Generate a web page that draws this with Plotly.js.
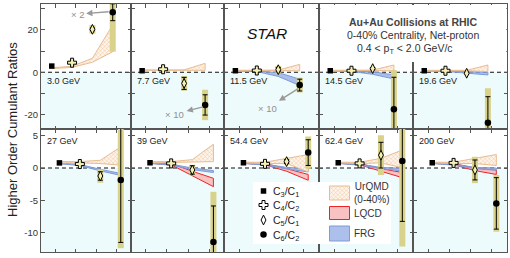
<!DOCTYPE html>
<html><head><meta charset="utf-8">
<script src="https://cdn.plot.ly/plotly-3.0.1.min.js"></script>
<style>html,body{margin:0;padding:0;background:#fff}</style>
</head><body><div id="chart" style="width:510px;height:258px"></div>
<script>
// ---- data ----
const energies = ['3.0 GeV','7.7 GeV','11.5 GeV','14.5 GeV','19.6 GeV','27 GeV','39 GeV','54.4 GeV','62.4 GeV','200 GeV'];
const slots = [1,2,3,4]; // C3/C1, C4/C2, C5/C1, C6/C2
const c3c1 = [2.9,0.7,0.7,0.7,0.7,0.8,0.82,0.82,0.82,0.82];
const c4c2 = [4.5,1.4,0.8,0.7,0.7,0.62,0.72,0.65,0.72,0.8];
const c5c1 = [20.3,-5.3,1.2,1.7,-0.5,-1.24,-0.3,1.0,2.0,-0.3];
const c5c1Stat = [0.6,2.85,1.0,0.5,0.3,0.65,0.65,0.3,2.0,1.55];
const c5c1Sys = [2.0,3.5,1.8,0.8,0.6,1.05,0.8,0.5,3.1,2.05];
const c6c2 = [28.4,-15.5,-6.1,-17.6,-23.9,-1.87,-11.5,2.4,1.1,-5.5];
const c6c2Stat = [4.0,4.8,2.8,15.2,12.3,9.7,5.6,2.0,9.4,4.0];
const c6c2Sys = [18.7,7.2,3.5,18.6,16.3,10.6,7.8,2.5,13.3,4.4];
const urqmdHi = [[2.1,2.8,6.6,22.4],[1.1,1.1,1.1,4.2],[0.9,0.9,1.0,3.7],[0.9,0.9,1.0,3.4],[0.9,0.9,0.9,3.4],
                 [1.0,1.0,1.2,3.3],[1.0,1.0,1.3,3.7],[0.9,0.9,1.5,2.1],[0.9,0.9,1.5,2.8],[0.9,0.9,1.5,2.1]];
const urqmdLo = [[1.7,2.3,4.7,9.7],[0.9,0.9,0.9,0.9],[0.7,0.7,0.8,0.6],[0.7,0.7,0.8,0.6],[0.7,0.7,0.7,0.3],
                 [0.8,0.8,0.7,0.45],[0.8,0.8,0.9,1.0],[0.8,0.7,0.7,-0.6],[0.8,0.7,0.8,0.05],[0.8,0.7,0.7,0.4]];
const lqcdHi = [null,null,null,null,null,null,[0.85,0.7,-0.5,-1.6],[0.85,0.7,-0.1,-1.0],[0.85,0.7,-0.1,-0.7],[0.85,0.7,0.0,-0.3]];
const lqcdLo = [null,null,null,null,null,null,[0.75,0.5,-1.2,-2.9],[0.75,0.5,-0.5,-1.9],[0.75,0.5,-0.5,-1.5],[0.75,0.5,-0.4,-1.0]];
const frgHi = [null,null,[0.8,0.6,-0.2,-3.3],[0.8,0.6,0.2,-1.3],[0.8,0.6,0.2,0.0],
               [0.8,0.55,-0.2,-0.85],[0.8,0.6,0.0,-0.4],[0.8,0.6,0.1,-0.1],[0.8,0.6,0.1,-0.05],[0.8,0.6,0.1,0.0]];
const frgLo = [null,null,[0.6,0.3,-2.0,-6.3],[0.6,0.4,-1.0,-3.2],[0.6,0.4,-0.5,-1.3],
               [0.65,0.4,-0.45,-1.15],[0.7,0.45,-0.25,-0.7],[0.7,0.45,-0.15,-0.6],[0.7,0.45,-0.1,-0.45],[0.7,0.45,-0.1,-0.35]];
const topTicks = [-20,0,20];
const topTickText = ['-20','0','20'];
const botTicks = [-10,-5,0,5];
const botTickText = ['-10','-5','0','5'];

// ---- styling / layout ----
const FONT = 'Liberation Sans, Arial, Helvetica, sans-serif';
const W = 510, H = 258;
const colPx = [41,131,224,319,413,507];
const tickFrac = [0.16,0.385,0.615,0.84];
const topRange = [-26.9, 32.3], botRange = [-13.06, 6.07];
const SYS = '#d8d28a', CYAN = '#eefbfc', AX = '#555';
const urqmdPattern = {shape:'x', fgcolor:'#edbb92', bgcolor:'#fdf4ea', size:3, solidity:0.25};

const layout = {width:W, height:H, margin:{l:0,r:0,t:0,b:0}, paper_bgcolor:'#fff', plot_bgcolor:'#fff',
  showlegend:false, font:{family:FONT, size:9, color:'#333'}, shapes:[], annotations:[]};
const traces = [];

function band(hi, lo, xid, yid, style){
  return Object.assign({type:'scatter', mode:'lines', x: slots.concat(slots.slice().reverse()),
    y: hi.concat(lo.slice().reverse()), fill:'toself', xaxis:xid, yaxis:yid, hoverinfo:'skip'}, style);
}
const lqcdStyle = {fillcolor:'#f8c2c2', line:{color:'#ee2424', width:1}};
const frgStyle = {fillcolor:'rgba(145,170,228,0.75)', line:{color:'#7f9bd9', width:1}};
const urqmdStyle = {fillcolor:'#fdf4ea', fillpattern:urqmdPattern, line:{color:'#e8bc90', width:1}};

for (let p = 0; p < 10; p++) {
  const n = p + 1, row = p < 5 ? 0 : 1, col = p % 5;
  const xid = n === 1 ? 'x' : 'x' + n, yid = n === 1 ? 'y' : 'y' + n;
  const xr = row === 0 ? [0.47, 4.9] : [0.1, 4.5];
  const yr = row === 0 ? topRange : botRange;
  layout['xaxis' + (n === 1 ? '' : n)] = {domain:[colPx[col]/W, colPx[col+1]/W], range:xr, anchor:yid,
    tickvals: tickFrac.map(f => xr[0] + f*(xr[1]-xr[0])), ticks:'inside', ticklen:3.5, tickwidth:1, tickcolor:AX,
    showticklabels:false, showline:true, linecolor:AX, linewidth:1, mirror:'ticks', showgrid:false, zeroline:false, fixedrange:true};
  const ya = {domain: row === 0 ? [0.5, 1-4/H] : [6/H, 0.5], range:yr, anchor:xid,
    tickvals: row === 0 ? topTicks : botTicks, ticktext: row === 0 ? topTickText : botTickText,
    ticks:'inside', ticklen:3.5, tickwidth:1, tickcolor:AX, showticklabels: col === 0,
    tickfont:{family:FONT, size:9.5, color:'#333'},
    showline:true, linecolor:AX, linewidth:1, mirror:'ticks', showgrid:false, zeroline:false, fixedrange:true};
  if (row === 0) ya.minor = {tick0:0, dtick:10, ticks:'inside', ticklen:3.5, tickwidth:1, tickcolor:AX, showgrid:false};
  layout['yaxis' + (n === 1 ? '' : n)] = ya;
  layout.shapes.push({type:'rect', xref:xid+' domain', yref:yid, x0:0, x1:1, y0:yr[0], y1:0, fillcolor:CYAN, line:{width:0}, layer:'below'});
  layout.shapes.push({type:'line', xref:xid+' domain', yref:yid, x0:0, x1:1, y0:0, y1:0, line:{color:'#111', width:1.1, dash:'4px,3px'}, layer:'below'});
  if (lqcdHi[p]) traces.push(band(lqcdHi[p], lqcdLo[p], xid, yid, lqcdStyle));
  if (frgHi[p]) traces.push(band(frgHi[p], frgLo[p], xid, yid, frgStyle));
  traces.push(band(urqmdHi[p], urqmdLo[p], xid, yid, urqmdStyle));
  traces.push({type:'scatter', mode:'markers', x:[slots[2], slots[3]], y:[c5c1[p], c6c2[p]], xaxis:xid, yaxis:yid,
    marker:{size:1, color:'rgba(0,0,0,0)'}, hoverinfo:'skip',
    error_y:{type:'data', array:[c5c1Sys[p], c6c2Sys[p]], color:SYS, thickness:6, width:0}});
  traces.push({type:'scatter', mode:'markers', x:[slots[0]], y:[c3c1[p]], xaxis:xid, yaxis:yid,
    marker:{symbol:'square', size:5.5, color:'#000'}});
  traces.push({type:'scatter', mode:'markers', x:[slots[1]], y:[c4c2[p]], xaxis:xid, yaxis:yid,
    marker:{symbol:'cross', size:7.5, color:'#f4efb4', line:{color:'#000', width:1}}});
  traces.push({type:'scatter', mode:'markers', x:[slots[2]], y:[c5c1[p]], xaxis:xid, yaxis:yid,
    marker:{symbol:'diamond-tall', size:7, color:'#f4efb4', line:{color:'#000', width:1}},
    error_y:{type:'data', array:[c5c1Stat[p]], color:'#000', thickness:1, width:2.5}});
  traces.push({type:'scatter', mode:'markers', x:[slots[3]], y:[c6c2[p]], xaxis:xid, yaxis:yid,
    marker:{symbol:'circle', size:6.5, color:'#000'},
    error_y:{type:'data', array:[c6c2Stat[p]], color:'#000', thickness:1, width:2.5}});
  layout.annotations.push({xref:xid+' domain', yref:yid+' domain', x:0, y: row === 0 ? 0.384 : 0.902,
    xanchor:'left', yanchor:'middle', xshift:4, text:energies[p], showarrow:false, font:{family:FONT, size:9, color:'#222'}});
}

// scale-factor notes: arrow runs from the circle to the label, head at the label end
function note(xid, yid, txt, tx, ty, sx, sy){
  layout.annotations.push({xref:xid, yref:yid, x:sx, y:sy, axref:xid, ayref:yid, ax:tx, ay:ty,
    xanchor:'center', yanchor:'middle', text:txt, font:{family:FONT, size:9.5, color:'#909090'},
    showarrow:true, arrowside:'start', startarrowhead:2, startarrowsize:0.9, arrowwidth:1.4, arrowcolor:'#9a9a9a',
    standoff:0, startstandoff:1});
}
note('x','y','× 2', 2.25, 27.5, 3.8, 28.6);
note('x2','y2','× 10', 2.55, -19.8, 3.9, -16.4);
note('x3','y3','× 10', 2.48, -17.1, 3.93, -7.8);

function paperText(px, py, txt, font, extra){
  layout.annotations.push(Object.assign({xref:'paper', yref:'paper', x:px/W, y:1-py/H, xanchor:'center', yanchor:'middle',
    text:txt, showarrow:false, font:Object.assign({family:FONT}, font)}, extra || {}));
}
// text box top-right: a blank frame drawn above the panels
layout.xaxis12 = {domain:[320.5/W, 506.3/W], range:[0,1], anchor:'y12', visible:false, fixedrange:true};
layout.yaxis12 = {domain:[1-62/H, 1-5/H], range:[0,1], anchor:'x12', visible:false, fixedrange:true};
layout.shapes.push({type:'rect', xref:'x12', yref:'y12', x0:0, x1:1, y0:0, y1:1, fillcolor:'#fff', line:{width:0}, layer:'below'});
traces.push({type:'scatter', mode:'markers', x:[], y:[], xaxis:'x12', yaxis:'y12', hoverinfo:'skip'});
paperText(413, 21.7, '<b>Au+Au Collisions at RHIC</b>', {size:10.5, color:'#444'});
paperText(413, 35, '0-40% Centrality, Net-proton', {size:10.5, color:'#333'});
paperText(405, 48.5, '0.4 &lt; p<sub>T</sub> &lt; 2.0 GeV/c', {size:10.5, color:'#333'});
paperText(267, 33, '<i>STAR</i>', {size:15.5, color:'#111'});
paperText(12, 130, 'Higher Order Cumulant Ratios', {size:13, color:'#222'}, {textangle:-90});

// key (legend) panel
layout.xaxis11 = {domain:[253/W, 391/W], range:[0,138], anchor:'y11', visible:false, fixedrange:true};
layout.yaxis11 = {domain:[1-244/H, 1-182/H], range:[62,0], anchor:'x11', visible:false, fixedrange:true};
layout.shapes.push({type:'rect', xref:'x11', yref:'y11', x0:0, x1:138, y0:0, y1:62, fillcolor:'#fff', line:{width:0}, layer:'below'});
const keyY = [9, 23, 38, 52.5];
const keySym = [{symbol:'square', size:5.5, color:'#000'},
                {symbol:'cross', size:7.5, color:'#fff', line:{color:'#000', width:1}},
                {symbol:'diamond-tall', size:7, color:'#fff', line:{color:'#000', width:1}},
                {symbol:'circle', size:6.5, color:'#000'}];
const keyTxt = ['C<sub>3</sub>/C<sub>1</sub>','C<sub>4</sub>/C<sub>2</sub>','C<sub>5</sub>/C<sub>1</sub>','C<sub>6</sub>/C<sub>2</sub>'];
for (let k = 0; k < 4; k++) {
  traces.push({type:'scatter', mode:'markers', x:[10.5], y:[keyY[k]], xaxis:'x11', yaxis:'y11', marker:keySym[k], hoverinfo:'skip'});
  layout.annotations.push({xref:'x11', yref:'y11', x:18, y:keyY[k]+1, xanchor:'left', yanchor:'middle', text:keyTxt[k], showarrow:false, font:{family:FONT, size:10.5, color:'#222'}});
}
function keyBox(y0, y1, style){
  return Object.assign({type:'scatter', mode:'lines', x:[76.5,96.5,96.5,76.5,76.5], y:[y0,y0,y1,y1,y0], fill:'toself', xaxis:'x11', yaxis:'y11', hoverinfo:'skip'}, style);
}
traces.push(keyBox(4, 18, urqmdStyle));
traces.push(keyBox(24.5, 37.5, lqcdStyle));
traces.push(keyBox(44, 59, frgStyle));
layout.annotations.push({xref:'x11', yref:'y11', x:99, y:11, xanchor:'left', yanchor:'middle', text:'UrQMD<br>(0-40%)', showarrow:false, font:{family:FONT, size:10, color:'#333'}});
layout.annotations.push({xref:'x11', yref:'y11', x:99, y:31, xanchor:'left', yanchor:'middle', text:'LQCD', showarrow:false, font:{family:FONT, size:10, color:'#333'}});
layout.annotations.push({xref:'x11', yref:'y11', x:99, y:51.5, xanchor:'left', yanchor:'middle', text:'FRG', showarrow:false, font:{family:FONT, size:10, color:'#333'}});

Plotly.newPlot('chart', traces, layout, {staticPlot:true, displayModeBar:false});
</script></body></html>
